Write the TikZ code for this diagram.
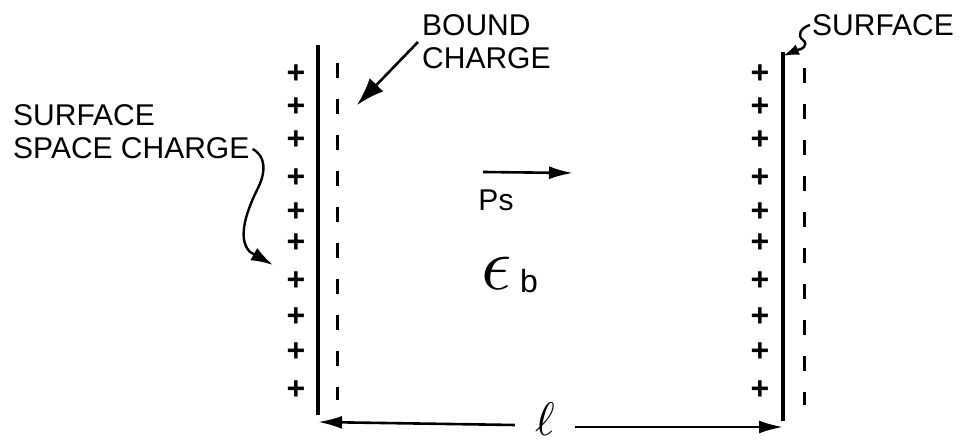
\documentclass[tikz,border=0pt]{standalone}
\usepackage{graphicx}
\usepackage{fontspec}
\setmainfont{Liberation Sans}
\usetikzlibrary{arrows.meta}
\begin{document}
\begin{tikzpicture}[x=1pt,y=-1pt,
  lbl/.style={inner sep=0pt, font=\fontsize{30}{33}\selectfont, align=left},
  pluss/.style={inner sep=0pt, font=\fontsize{32}{32}\selectfont\bfseries},
  wall/.style={line width=4pt},
  bnd/.style={line width=3pt, dash pattern=on 15pt off 21pt},
  ptr/.style={line width=2.6pt, -{Latex[length=24pt,width=13pt]}},
  bptr/.style={line width=2.6pt, -{Latex[length=28pt,width=19pt]}},
  sptr/.style={line width=2.4pt, -{Latex[length=22pt,width=14pt]}},
]
\useasboundingbox (0,0) rectangle (962,446);
% walls (surfaces)
\coordinate (LT) at (318,45);
\coordinate (LB) at (318,415);
\coordinate (RT) at (783,52);
\coordinate (RB) at (783,421);
\draw[wall] (LT) -- (LB);
\draw[wall] (RT) -- (RB);
% bound charge (dashed)
\coordinate (LDT) at (337,63);
\coordinate (LDB) at (337,400);
\coordinate (RDT) at (804,68);
\coordinate (RDB) at (804,405);
\draw[bnd] (LDT) -- (LDB);
\draw[bnd] (RDT) -- (RDB);
% plus charges
\foreach \y [count=\i] in {74,107,140,178,212,243,281,317,352,390}{
  \node[pluss] (pl\i) at (296,\y) {+};
  \node[pluss] (pr\i) at (760,\y) {+};
}
% labels
\node[lbl, anchor=west] (ssc) at (13,132) {SURFACE\\SPACE CHARGE};
\node[lbl, anchor=west] (bc) at (422,42) {BOUND\\CHARGE};
\node[lbl, anchor=west] (surf) at (812,25) {SURFACE};
\node[inner sep=0pt, font=\fontsize{30}{30}\selectfont] (ps) at (496,200) {Ps};
\node[inner sep=0pt] (eps) at (497,273) {\scalebox{7.5}{$\epsilon$}};
\node[inner sep=0pt, font=\fontsize{32}{32}\selectfont] (sb) at (529,281) {b};
\node[inner sep=0pt, minimum width=60pt] (ell) at (545,419) {\scalebox{4.7}{$\ell$}};
% arrows
\coordinate (bctip) at (357,105);
\draw[bptr] ([xshift=-4pt]bc.west) -- (bctip);
\coordinate (ssctip) at (273,265);
\draw[sptr] ([shift={(3,17)}]ssc.east) .. controls (266,156) and (266,172) .. (258,188)
  .. controls (248,208) and (236,238) .. (250,252) -- (ssctip);
\coordinate (surftip) at (783,56);
\draw[sptr, -{Latex[length=16pt,width=11pt]}] ([xshift=-2pt]surf.west) .. controls (800,28) and (797,36) .. (803,40)
  .. controls (809,45) and (802,50) .. (797,50) -- (surftip);
\coordinate (psA) at (483,172);
\coordinate (psB) at (573,173);
\draw[ptr] (psA) -- (psB);
\coordinate (LA) at (318,422);
\coordinate (RA) at (783,427);
\draw[ptr] ([yshift=-6pt]ell.west) -- (LA);
\draw[ptr] ([yshift=-8pt]ell.east) -- (RA);
\end{tikzpicture}
\end{document}
